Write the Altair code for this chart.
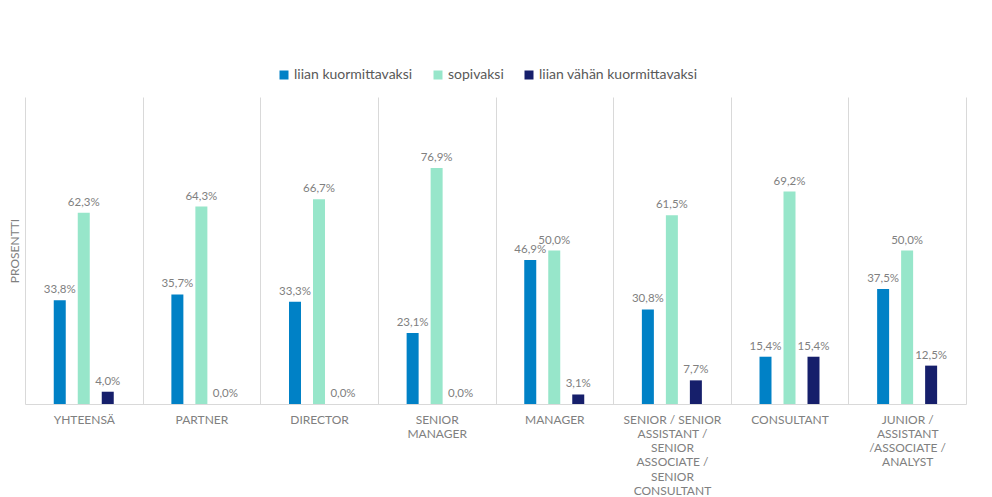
import altair as alt
import pandas as pd

categories = [
    "YHTEENSÄ",
    "PARTNER",
    "DIRECTOR",
    "SENIOR\nMANAGER",
    "MANAGER",
    "SENIOR / SENIOR\nASSISTANT /\nSENIOR\nASSOCIATE /\nSENIOR\nCONSULTANT",
    "CONSULTANT",
    "JUNIOR /\nASSISTANT\n/ASSOCIATE /\nANALYST",
]
series = ["liian kuormittavaksi", "sopivaksi", "liian vähän kuormittavaksi"]
liian_kuormittavaksi = [33.8, 35.7, 33.3, 23.1, 46.9, 30.8, 15.4, 37.5]
sopivaksi = [62.3, 64.3, 66.7, 76.9, 50.0, 61.5, 69.2, 50.0]
liian_vahan = [4.0, 0.0, 0.0, 0.0, 3.1, 7.7, 15.4, 12.5]
colors = ["#0081C6", "#97E6CA", "#161F6B"]

rows = []
for vals, s in zip([liian_kuormittavaksi, sopivaksi, liian_vahan], series):
    for c, v in zip(categories, vals):
        rows.append({"ryhma": c, "sarja": s, "arvo": v})
df = pd.DataFrame(rows)

FONT = "Lato"
GRAY = "#808080"

base = alt.Chart(df).encode(
    x=alt.X(
        "ryhma:N",
        sort=categories,
        scale=alt.Scale(paddingInner=0, paddingOuter=0),
        axis=alt.Axis(
            title=None,
            labelAngle=0,
            labelExpr="split(datum.label, '\\n')",
            labelFont=FONT,
            labelFontSize=12,
            labelColor=GRAY,
            labelLineHeight=14.3,
            labelPadding=10,
            labelLimit=0,
            labelBaseline="top",
            ticks=False,
            grid=True,
            tickBand="extent",
            gridColor="#d9d9d9",
            gridWidth=1,
            domainColor="#d9d9d9",
            domainWidth=1,
        ),
    ),
    xOffset=alt.XOffset(
        "sarja:N",
        sort=series,
        scale=alt.Scale(paddingInner=0.5, paddingOuter=0, range=[28.75, 88.75]),
    ),
    y=alt.Y(
        "arvo:Q",
        scale=alt.Scale(domain=[0, 100], nice=False),
        axis=alt.Axis(
            title="PROSENTTI",
            titleFont=FONT,
            titleFontSize=12,
            titleFontWeight="normal",
            titleColor=GRAY,
            titlePadding=4,
            labels=False,
            ticks=False,
            domain=False,
            grid=False,
        ),
    ),
)

bars = base.mark_bar().encode(
    color=alt.Color(
        "sarja:N",
        sort=series,
        scale=alt.Scale(domain=series, range=colors),
        legend=alt.Legend(
            title=None,
            orient="none",
            direction="horizontal",
            legendX=252,
            legendY=-29,
            symbolType="square",
            symbolSize=81,
            symbolStrokeWidth=0,
            labelFont=FONT,
            labelFontSize=14,
            labelColor="#595959",
            columnPadding=18,
            labelOffset=3,
        ),
    )
)

labels = base.transform_calculate(
    teksti="replace(format(datum.arvo, '.1f'), '.', ',') + '%'"
).mark_text(
    baseline="bottom", dy=-5, font=FONT, fontSize=11.5, color=GRAY
).encode(text="teksti:N")

chart = (
    alt.layer(bars, labels)
    .properties(
        width=941,
        height=307,
        autosize=alt.AutoSizeParams(type="none"),
        padding={"left": 17, "top": 89, "right": 18, "bottom": 93},
    )
    .configure(background="white", view=alt.ViewConfig(stroke=None))
)

chart.save("out.html", embed_options={"renderer": "svg", "actions": False})
